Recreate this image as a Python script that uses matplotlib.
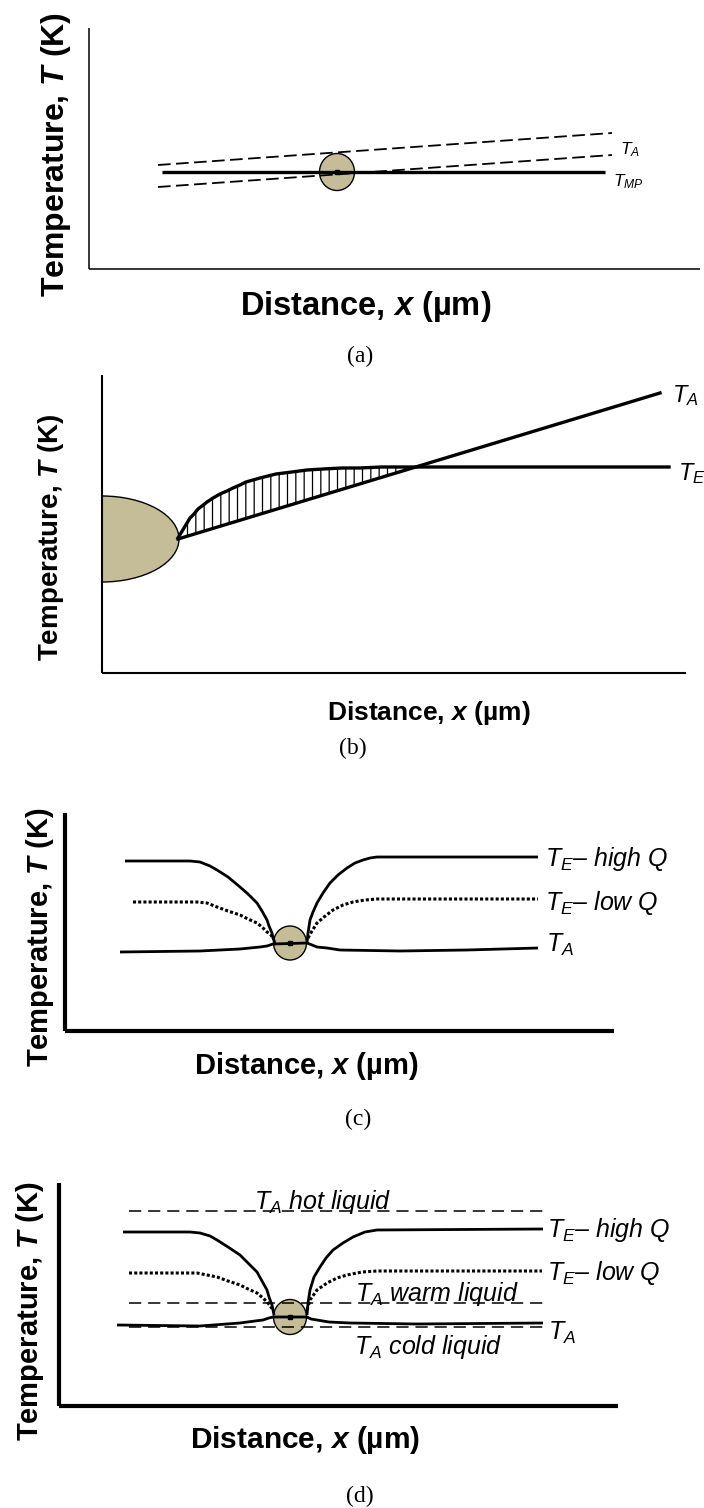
import numpy as np
import matplotlib
matplotlib.use("Agg")
import matplotlib.pyplot as plt
from matplotlib.patches import Ellipse

W, H = 704, 1508
plt.rcParams['font.family'] = ['Liberation Sans', 'DejaVu Sans']
plt.rcParams['mathtext.fontset'] = 'custom'
plt.rcParams['mathtext.it'] = 'Liberation Sans:italic'
plt.rcParams['mathtext.rm'] = 'Liberation Sans'
plt.rcParams['mathtext.bf'] = 'Liberation Sans:bold'
plt.rcParams['mathtext.bfit'] = 'Liberation Sans:bold:italic'
plt.rcParams['hatch.linewidth'] = 0.9

# ---------------- data (schematic values) ----------------
# panel (a): distance x, temperature T (arbitrary units)
a_x_mp = [73, 516]
a_T_mp = [97, 97]
a_x_ta = [69, 523]
a_T_ta_upper = [104, 136]
a_T_ta_lower = [82, 114]
a_particle_xT = [248, 97]

# panel (b)
b_x_ta = [76, 558]
b_T_ta = [134, 280]
b_x_te = [76, 79, 82, 85, 88, 92, 96, 100, 105, 111, 118, 125, 131, 138, 144, 151,
          158, 166, 174, 182, 190, 205, 221, 240, 257, 280, 302, 567]
b_T_te = [135, 140, 145, 150, 155, 159, 164, 167, 171, 175, 179, 182, 185, 188, 191, 193,
          195, 197, 199, 200, 201, 203, 204, 205, 205, 206, 206, 206]
b_particle_xT = [0, 134]

# panel (c)
c_x_high_l = [60, 125, 135, 145, 152, 163, 175, 183, 192, 197, 202, 204, 207, 208, 210]
c_T_high_l = [170, 170, 169, 165, 161, 154, 144, 137, 128, 120, 111, 105, 98, 93, 88]
c_x_high_r = [242, 243, 245, 248, 252, 258, 265, 273, 282, 290, 298, 305, 312, 473]
c_T_high_r = [88, 98, 111, 119, 128, 138, 148, 156, 163, 168, 171, 173, 174, 174]
c_x_low_l = [68, 132, 142, 152, 163, 175, 183, 192, 197, 202, 206, 208]
c_T_low_l = [129, 129, 128, 124, 120, 116, 112, 108, 104, 99, 96, 93]
c_x_low_r = [243, 247, 252, 259, 268, 278, 288, 300, 312, 473]
c_T_low_r = [93, 100, 108, 114, 121, 126, 129, 131, 132, 132]
c_x_ta = [55, 135, 175, 195, 202, 208, 242, 247, 252, 262, 275, 335, 402, 473]
c_T_ta = [79, 80, 82, 84, 85, 87, 88, 86, 84, 83, 81, 80, 81, 83]
c_particle_xT = [225, 88]

# panel (d)
d_x_dash = [70, 484]
d_T_hot = [195, 195]
d_T_warm = [103, 103]
d_T_cold = [79, 79]
d_x_high_l = [64, 131, 141, 151, 158, 169, 181, 189, 198, 203, 208, 210, 213, 214, 215]
d_T_high_l = [174, 174, 173, 170, 166, 159, 151, 143, 134, 125, 116, 109, 101, 96, 91]
d_x_high_r = [248, 249, 251, 255, 261, 267, 274, 284, 294, 306, 318, 484]
d_T_high_r = [91, 103, 116, 129, 139, 148, 156, 163, 169, 174, 176, 177]
d_x_low_l = [70, 138, 148, 158, 169, 181, 189, 198, 204, 209, 212, 214]
d_T_low_l = [133, 133, 131, 129, 125, 121, 117, 113, 108, 103, 99, 96]
d_x_low_r = [248, 251, 258, 268, 278, 288, 303, 318, 483]
d_T_low_r = [96, 106, 116, 123, 128, 131, 134, 135, 135]
d_x_ta = [58, 141, 181, 196, 204, 210, 214, 248, 252, 258, 270, 291, 358, 484]
d_T_ta = [81, 80, 83, 85, 86, 88, 89, 89, 87, 86, 84, 83, 82, 83]
d_particle_xT = [231, 89]

# ---------------- figure ----------------
fig = plt.figure(figsize=(W / 100, H / 100), dpi=100)
PARTICLE = '#C4BD97'


def panel(x0, top, x1, bottom, spine_lw):
    ax = fig.add_axes([x0 / W, 1 - bottom / H, (x1 - x0) / W, (bottom - top) / H])
    ax.set_xlim(0, x1 - x0)
    ax.set_ylim(0, bottom - top)
    for s in ['top', 'right']:
        ax.spines[s].set_visible(False)
    for s in ['left', 'bottom']:
        ax.spines[s].set_linewidth(spine_lw)
        ax.spines[s].set_capstyle('butt')
    ax.set_xticks([])
    ax.set_yticks([])
    ax.patch.set_alpha(0)
    return ax


def ftext(px, py, s, **kw):
    fig.text(px / W, 1 - py / H, s, **kw)


def curve(ax, xs, ts, dotted=False):
    if dotted:
        ax.plot(xs, ts, color='black', lw=2.2, ls=(0, (1, 0.7)), zorder=3, clip_on=False)
    else:
        ax.plot(xs, ts, color='black', lw=2.0, zorder=3, clip_on=False,
                solid_joinstyle='round', solid_capstyle='butt')


YLAB = r"Temperature, $\mathbfit{T}$ (K)"
XLAB = r"Distance, $\mathbfit{x}$ (µm)"
SUBFONT = dict(family='Liberation Serif', fontsize=17, ha='center', va='center')
LAB = 18

# ---- (a) ----
ax = panel(89, 28, 700, 269, 1.1)
ax.add_patch(Ellipse(a_particle_xT, 35, 37, facecolor=PARTICLE, edgecolor='black', lw=1.0, zorder=1))
ax.plot(a_x_mp, a_T_mp, color='black', lw=2.4, solid_capstyle='butt', zorder=3, clip_on=False)
ax.plot(a_x_ta, a_T_ta_upper, color='black', lw=1.3, ls=(0, (7, 3)), zorder=3, clip_on=False)
ax.plot(a_x_ta, a_T_ta_lower, color='black', lw=1.3, ls=(0, (7, 3)), zorder=3, clip_on=False)
ax.plot([a_particle_xT[0]], [a_particle_xT[1]], 'ks', ms=2.5, zorder=4)
ax.text(a_x_ta[1] + 8, 119, r"$T_A$", fontsize=12.5, va='center', ha='left')
ax.text(a_x_mp[1] + 8, 87, r"$T_{MP}$", fontsize=12.5, va='center', ha='left')
ftext(56, 155, YLAB, rotation=90, ha='center', va='center', fontsize=23, fontweight='bold')
ftext(366, 306, XLAB, ha='center', va='center', fontsize=23.5, fontweight='bold')
ftext(360, 356, "(a)", **SUBFONT)

# ---- (b) ----
ax = panel(102, 375, 686, 673, 1.5)
ax.add_patch(Ellipse(b_particle_xT, 154, 86, facecolor=PARTICLE, edgecolor='black', lw=1.0, zorder=1))
xte = np.array(b_x_te, dtype=float)
te = np.array(b_T_te, dtype=float)
ta_at = np.interp(xte, b_x_ta, b_T_ta)
ax.fill_between(xte, te, ta_at, where=te >= ta_at, interpolate=True,
                facecolor='none', edgecolor='black', hatch='||', lw=0, zorder=2)
ax.plot(b_x_ta, b_T_ta, color='black', lw=2.4, zorder=3, clip_on=False)
ax.plot(b_x_te, b_T_te, color='black', lw=2.4, zorder=3, clip_on=False, solid_joinstyle='round')
ax.text(b_x_ta[1] + 12, b_T_ta[1] - 3, r"$T_A$", fontsize=17, va='center', ha='left')
ax.text(b_x_te[-1] + 9, b_T_te[-1] - 7, r"$T_E$", fontsize=17, va='center', ha='left')
ftext(51, 537, YLAB, rotation=90, ha='center', va='center', fontsize=20, fontweight='bold')
ftext(429, 713, XLAB, ha='center', va='center', fontsize=19, fontweight='bold')
ftext(353, 748, "(b)", **SUBFONT)

# ---- (c) ----
ax = panel(65, 813, 614, 1031, 3.0)
ax.add_patch(Ellipse(c_particle_xT, 33, 34, facecolor=PARTICLE, edgecolor='black', lw=1.0, zorder=1))
curve(ax, c_x_high_l, c_T_high_l)
curve(ax, c_x_high_r, c_T_high_r)
curve(ax, c_x_ta, c_T_ta)
curve(ax, c_x_low_l, c_T_low_l, dotted=True)
curve(ax, c_x_low_r, c_T_low_r, dotted=True)
ax.plot([c_particle_xT[0]], [c_particle_xT[1]], 'ks', ms=2.5, zorder=4)
ax.text(480, 172, r"$T_E$– high Q", fontsize=LAB, style='italic', va='center', ha='left')
ax.text(480, 128, r"$T_E$– low Q", fontsize=LAB, style='italic', va='center', ha='left')
ax.text(481, 86, r"$T_A$", fontsize=LAB, va='center', ha='left')
ftext(40, 937, YLAB, rotation=90, ha='center', va='center', fontsize=21, fontweight='bold')
ftext(306, 1066, XLAB, ha='center', va='center', fontsize=21, fontweight='bold')
ftext(358, 1119, "(c)", **SUBFONT)

# ---- (d) ----
ax = panel(59, 1183, 618, 1406, 3.0)
ax.add_patch(Ellipse(d_particle_xT, 33, 35, facecolor=PARTICLE, edgecolor='black', lw=1.0, zorder=1))
for ts in [d_T_hot, d_T_warm, d_T_cold]:
    ax.plot(d_x_dash, ts, color='black', lw=1.1, ls=(0, (8, 4.5)), zorder=2, clip_on=False)
curve(ax, d_x_high_l, d_T_high_l)
curve(ax, d_x_high_r, d_T_high_r)
curve(ax, d_x_ta, d_T_ta)
curve(ax, d_x_low_l, d_T_low_l, dotted=True)
curve(ax, d_x_low_r, d_T_low_r, dotted=True)
ax.plot([d_particle_xT[0]], [d_particle_xT[1]], 'ks', ms=2.5, zorder=4)
ax.text(264, 197, r"$T_A$ hot liquid", fontsize=LAB, style='italic', va='baseline', ha='center')
ax.text(378, 105, r"$T_A$ warm liquid", fontsize=LAB, style='italic', va='baseline', ha='center')
ax.text(369, 52, r"$T_A$ cold liquid", fontsize=LAB, style='italic', va='baseline', ha='center')
ax.text(488, 176, r"$T_E$– high Q", fontsize=LAB, style='italic', va='center', ha='left')
ax.text(488, 133, r"$T_E$– low Q", fontsize=LAB, style='italic', va='center', ha='left')
ax.text(489, 73, r"$T_A$", fontsize=LAB, va='center', ha='left')
ftext(30, 1311, YLAB, rotation=90, ha='center', va='center', fontsize=21, fontweight='bold')
ftext(305, 1440, XLAB, ha='center', va='center', fontsize=21.5, fontweight='bold')
ftext(360, 1496, "(d)", **SUBFONT)

fig.savefig("out.png", dpi=100)
